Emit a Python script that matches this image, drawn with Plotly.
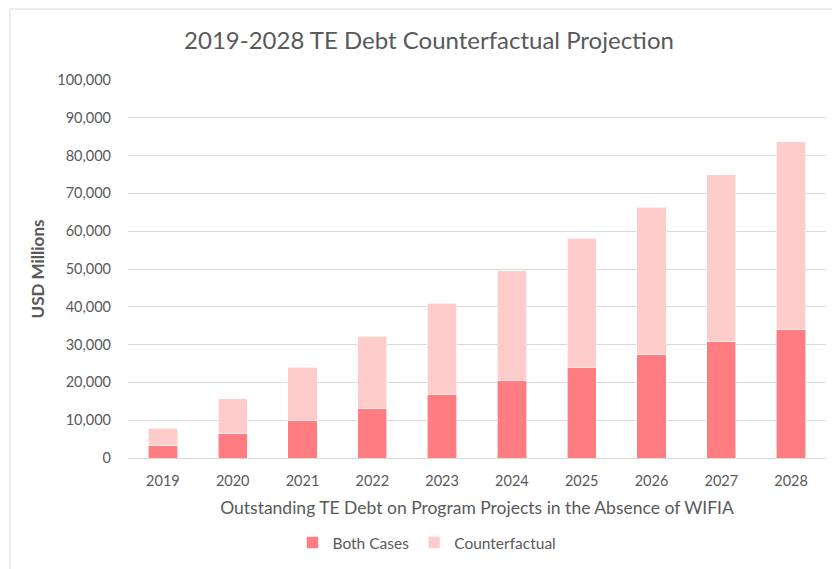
import plotly.graph_objects as go

years = ["2019", "2020", "2021", "2022", "2023", "2024", "2025", "2026", "2027", "2028"]
both_cases = [3260, 6500, 10000, 13100, 16900, 20400, 24000, 27400, 30900, 34100]
counterfactual = [4600, 9200, 14000, 19100, 24100, 29200, 34200, 39000, 44100, 49500]
y_ticks = [0, 10000, 20000, 30000, 40000, 50000, 60000, 70000, 80000, 90000, 100000]

FONT = "Lato"
GREY = "#595959"

fig = go.Figure()
fig.add_trace(go.Bar(x=years, y=both_cases, name="Both Cases",
                     marker=dict(color="#FF7C80", line=dict(color="#FFFFFF", width=0.6))))
fig.add_trace(go.Bar(x=years, y=counterfactual, name="Counterfactual",
                     marker=dict(color="#FFCCCC", line=dict(color="#FFFFFF", width=0.6))))

W, H = 832, 569
L, R, T, B = 128, 6, 80, 111
pw, ph = W - L - R, H - T - B

def px(x):
    return (x - L) / pw

def py(y):
    return (H - B - y) / ph

fig.update_layout(
    width=W, height=H,
    barmode="stack",
    bargap=0.58,
    paper_bgcolor="white", plot_bgcolor="white",
    margin=dict(l=L, r=R, t=T, b=B),
    font=dict(family=FONT, color=GREY, size=14.5),
    title=dict(text="2019-2028 TE Debt Counterfactual Projection",
               x=px(429), xref="paper", xanchor="center",
               y=1 - 41 / H, yanchor="middle",
               font=dict(size=24, color=GREY, family=FONT)),
    xaxis=dict(title=dict(text="Outstanding TE Debt on Program Projects in the Absence of WIFIA",
                          font=dict(size=17.5, color=GREY), standoff=14),
               showgrid=False, showline=False, ticks="", ticklabelstandoff=12,
               tickfont=dict(size=14.5, color=GREY)),
    yaxis=dict(title=dict(text="<b>USD Millions</b>", font=dict(size=17, color=GREY), standoff=8),
               range=[0, 100000], tickvals=y_ticks, tickformat=",",
               showgrid=True, gridcolor="#D9D9D9", gridwidth=1,
               zeroline=True, zerolinecolor="#D9D9D9", zerolinewidth=1,
               showline=False, ticks="", ticklabelstandoff=16,
               tickfont=dict(size=14.5, color=GREY)),
    legend=dict(orientation="h", x=px(427), xanchor="center",
                y=py(543), yanchor="middle",
                font=dict(size=15.5, color=GREY), itemwidth=30,
                traceorder="normal"),
    shapes=[
        dict(type="line", xref="paper", yref="paper",
             x0=px(10), x1=px(832), y0=py(9), y1=py(9),
             line=dict(color="#D9D9D9", width=1), layer="below"),
        dict(type="line", xref="paper", yref="paper",
             x0=px(10), x1=px(10), y0=py(9), y1=py(569),
             line=dict(color="#D9D9D9", width=1), layer="below"),
    ],
)

fig.write_html("out.html", config={"displayModeBar": False},
               post_script="document.body.style.margin='0px';")
